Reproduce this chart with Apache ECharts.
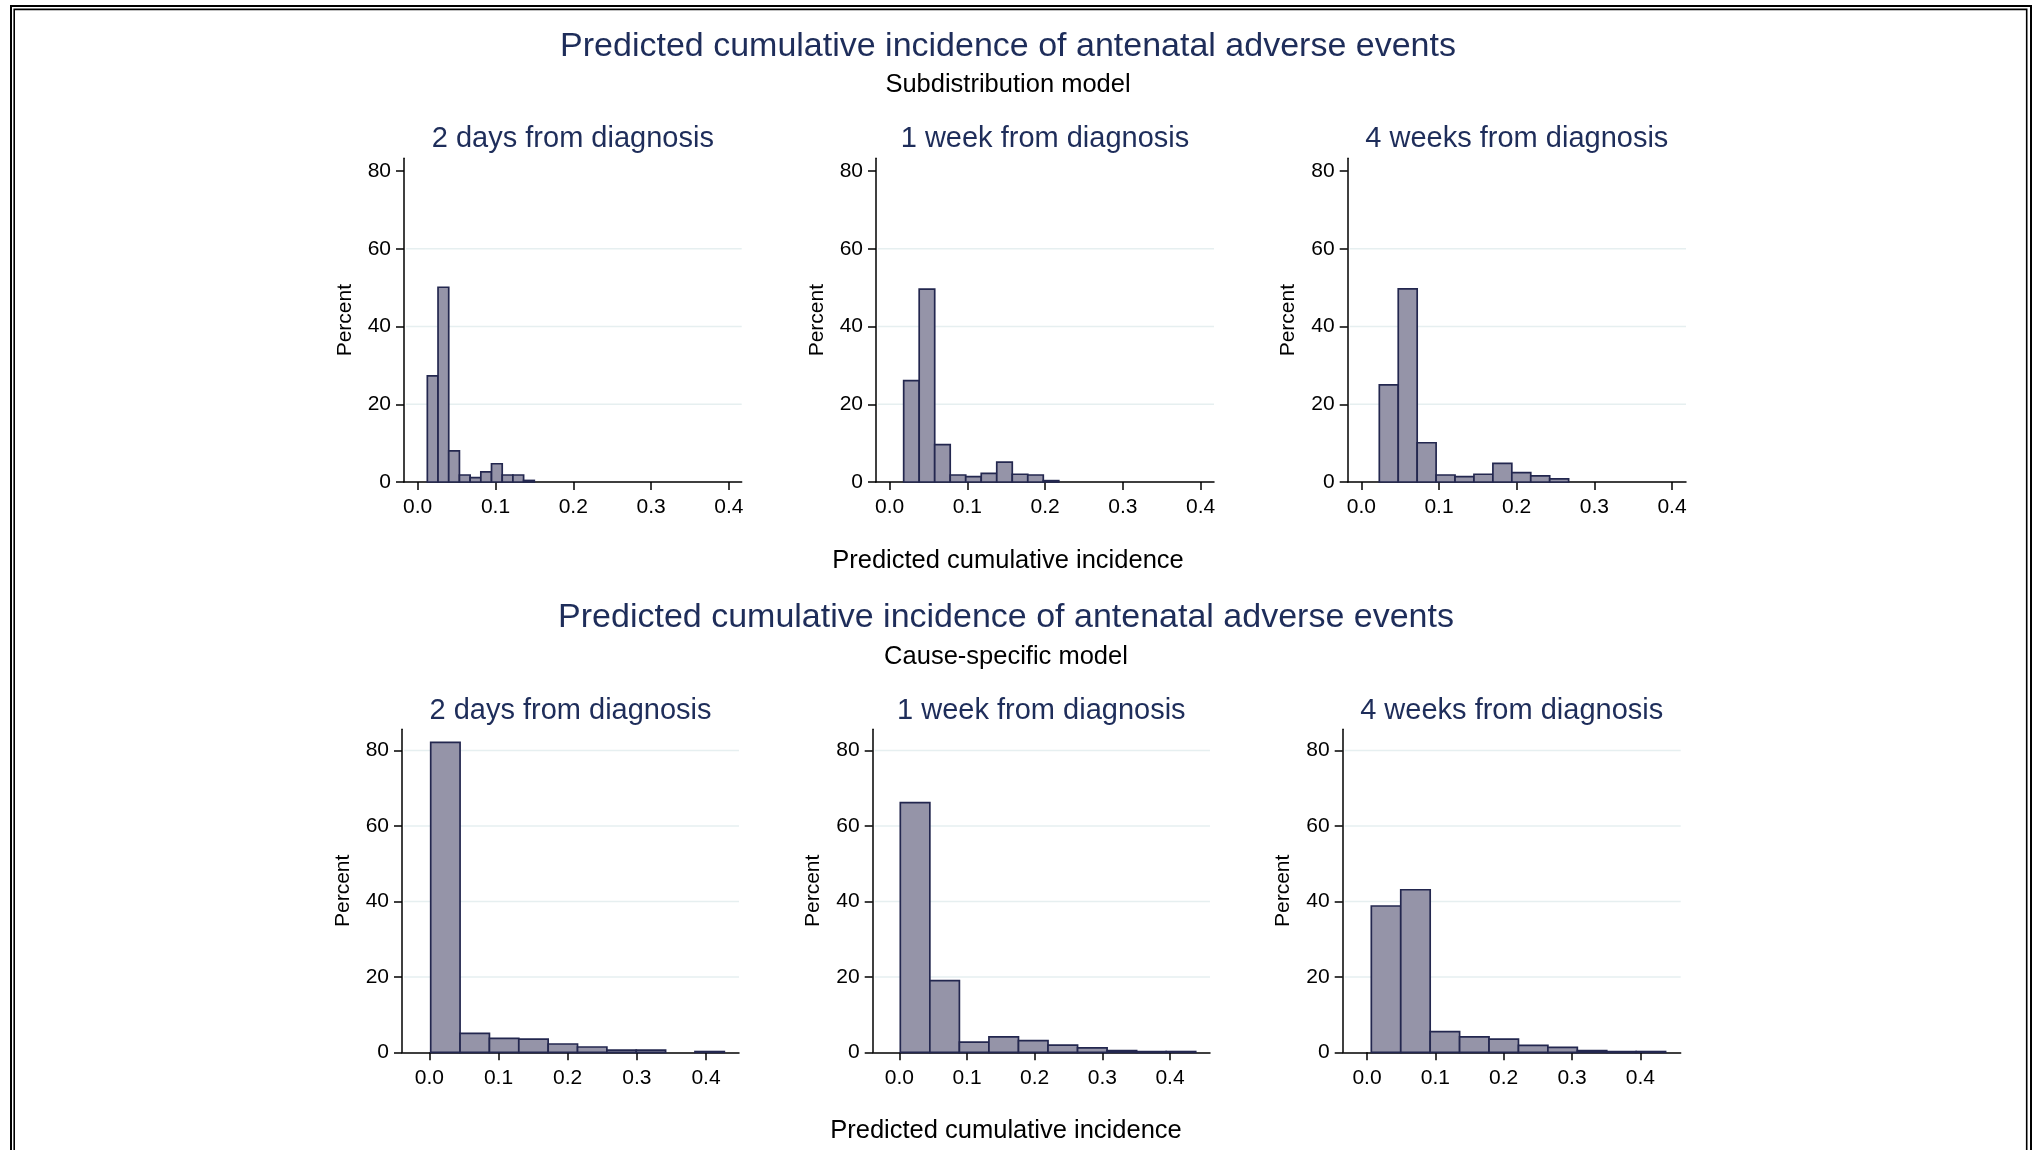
<!DOCTYPE html>
<html>
<head>
<meta charset="utf-8">
<script src="https://cdn.jsdelivr.net/npm/echarts@6/dist/echarts.min.js"></script>
<style>
  html, body { margin: 0; padding: 0; background: #ffffff; }
  #chart { width: 2035px; height: 1150px; }
</style>
</head>
<body>
<div id="chart"></div>
<script>
// ---- Histogram data: start of first bin, bin width, percent per bin ----
// Subdistribution model
const sd2dStart = 0.0124, sd2dWidth = 0.01375;
const sd2dPct = [27.3, 50.1, 8.0, 1.8, 1.1, 2.6, 4.7, 1.8, 1.8, 0.4];
const sd1wStart = 0.018, sd1wWidth = 0.01995;
const sd1wPct = [26.1, 49.6, 9.6, 1.8, 1.4, 2.2, 5.1, 2.0, 1.8, 0.35];
const sd4wStart = 0.0232, sd4wWidth = 0.02437;
const sd4wPct = [25.0, 49.7, 10.1, 1.8, 1.4, 2.0, 4.8, 2.4, 1.6, 0.8];
// Cause-specific model
const cs2dStart = 0.002, cs2dWidth = 0.04245;
const cs2dPct = [82.2, 5.0, 3.7, 3.5, 2.2, 1.4, 0.6, 0.6, 0, 0.2];
const cs1wStart = 0.0015, cs1wWidth = 0.04365;
const cs1wPct = [66.2, 19.0, 2.7, 4.1, 3.1, 1.9, 1.15, 0.45, 0.2, 0.2];
const cs4wStart = 0.0063, cs4wWidth = 0.04307;
const cs4wPct = [38.8, 43.1, 5.5, 4.1, 3.5, 1.85, 1.3, 0.45, 0.2, 0.2];

// ---- Tick labels and text ----
const xTicks = [0, 0.1, 0.2, 0.3, 0.4];
const yTicks = [0, 20, 40, 60, 80];
const mainTitle = 'Predicted cumulative incidence of antenatal adverse events';
const subTitles = ['Subdistribution model', 'Cause-specific model'];
const panelTitles = ['2 days from diagnosis', '1 week from diagnosis', '4 weeks from diagnosis'];
const xTitle = 'Predicted cumulative incidence';
const yTitle = 'Percent';

// ---- Styling ----
const FONT = '"Liberation Sans", Arial, Helvetica, sans-serif';
const NAVY = '#1e2d5a';
const BAR_FILL = '#9594a8';
const BAR_EDGE = '#23274f';
const GRID_LINE = '#e6eff0';

// Panel layout: plot box and axis ranges
const panels = [
  { start: sd2dStart, width: sd2dWidth, pct: sd2dPct, left: 404,   top: 158.3, w: 337.7, h: 323.7, xMin: -0.0176, xMax: 0.4165, yMax: 83.27, grid: [20, 40, 60] },
  { start: sd1wStart, width: sd1wWidth, pct: sd1wPct, left: 876,   top: 158.3, w: 338,   h: 323.7, xMin: -0.0176, xMax: 0.4171, yMax: 83.27, grid: [20, 40, 60] },
  { start: sd4wStart, width: sd4wWidth, pct: sd4wPct, left: 1347.7,top: 158.3, w: 338.3, h: 323.7, xMin: -0.0175, xMax: 0.418,  yMax: 83.27, grid: [20, 40, 60] },
  { start: cs2dStart, width: cs2dWidth, pct: cs2dPct, left: 402,   top: 729.3, w: 337,   h: 323,   xMin: -0.0395, xMax: 0.4477, yMax: 85.65, grid: [20, 40, 60, 80] },
  { start: cs1wStart, width: cs1wWidth, pct: cs1wPct, left: 872.7, top: 729.3, w: 337.3, h: 323,   xMin: -0.0393, xMax: 0.4591, yMax: 85.65, grid: [20, 40, 60, 80] },
  { start: cs4wStart, width: cs4wWidth, pct: cs4wPct, left: 1342.7,top: 729.3, w: 338,   h: 323,   xMin: -0.0356, xMax: 0.4591, yMax: 85.65, grid: [20, 40, 60, 80] }
];

function binData(p) {
  const out = [];
  p.pct.forEach((v, i) => {
    if (v > 0) out.push([p.start + i * p.width, p.start + (i + 1) * p.width, v]);
  });
  return out;
}

function renderBin(params, api) {
  const a = api.coord([api.value(0), api.value(2)]);
  const b = api.coord([api.value(1), 0]);
  return {
    type: 'rect',
    shape: { x: a[0], y: a[1], width: b[0] - a[0], height: b[1] - a[1] },
    style: { fill: BAR_FILL, stroke: BAR_EDGE, lineWidth: 1.7 }
  };
}

function renderGridLine(params, api) {
  const cs = params.coordSys;
  const y = api.coord([0, api.value(1)])[1];
  return {
    type: 'line',
    shape: { x1: cs.x + 2, y1: y, x2: cs.x + cs.width, y2: y },
    style: { stroke: GRID_LINE, lineWidth: 1.5 }
  };
}

const grids = [], xAxes = [], yAxes = [], series = [];
panels.forEach((p, i) => {
  grids.push({ left: p.left, top: p.top, width: p.w, height: p.h, containLabel: false });
  xAxes.push({
    gridIndex: i, type: 'value', min: p.xMin, max: p.xMax,
    axisLine: { show: true, onZero: false, lineStyle: { color: '#000', width: 1.5 } },
    axisTick: { show: true, length: 8, lineStyle: { color: '#000', width: 1.5 }, customValues: xTicks },
    axisLabel: { customValues: xTicks, formatter: v => v.toFixed(1), margin: 15,
                 color: '#000', fontSize: 21, fontFamily: FONT },
    splitLine: { show: false }
  });
  yAxes.push({
    gridIndex: i, type: 'value', min: 0, max: p.yMax, interval: 20,
    axisLine: { show: true, onZero: false, lineStyle: { color: '#000', width: 1.5 } },
    axisTick: { show: true, length: 8, lineStyle: { color: '#000', width: 1.5 }, customValues: yTicks },
    axisLabel: { customValues: yTicks, margin: 13, color: '#000', fontSize: 21, fontFamily: FONT },
    splitLine: { show: false }
  });
  series.push({
    type: 'custom', xAxisIndex: i, yAxisIndex: i, z: 1, silent: true,
    renderItem: renderGridLine,
    data: p.grid.map(v => [0, v])
  });
  series.push({
    type: 'custom', xAxisIndex: i, yAxisIndex: i, z: 3, silent: true,
    renderItem: renderBin,
    encode: { x: [0, 1], y: 2 },
    data: binData(p)
  });
});

// Titles and labels
const graphics = [];
function addText(text, x, y, size, color, rotation) {
  graphics.push({
    type: 'text', x: x, y: y, rotation: rotation || 0, silent: true,
    style: { text: text, font: size + 'px ' + FONT, fill: color, align: 'center', verticalAlign: 'middle' }
  });
}
// Double frame around the figure
graphics.push({ type: 'rect', silent: true, shape: { x: 11, y: 6, width: 2020, height: 1200 },
                style: { fill: 'none', stroke: '#000', lineWidth: 2 } });
graphics.push({ type: 'rect', silent: true, shape: { x: 14.2, y: 9.4, width: 2012.5, height: 1200 },
                style: { fill: 'none', stroke: '#000', lineWidth: 1.6 } });

const rowText = [
  { main: 46.5, sub: 84.5, panel: 138.5, xt: 560.5, cx: 1008 },
  { main: 617.5, sub: 656.5, panel: 710.5, xt: 1130.5, cx: 1006 }
];
rowText.forEach((r, row) => {
  addText(mainTitle, r.cx, r.main, 34, NAVY);
  addText(subTitles[row], r.cx, r.sub, 25.5, '#000');
  addText(xTitle, r.cx, r.xt, 25.5, '#000');
  for (let c = 0; c < 3; c++) {
    const p = panels[row * 3 + c];
    addText(panelTitles[c], p.left + p.w / 2, r.panel, 29, NAVY);
    addText(yTitle, p.left - 59, p.top + p.h / 2, 21, '#000', Math.PI / 2);
  }
});

const chart = echarts.init(document.getElementById('chart'), null, { renderer: 'canvas' });
chart.setOption({
  animation: false,
  backgroundColor: '#ffffff',
  grid: grids,
  xAxis: xAxes,
  yAxis: yAxes,
  series: series,
  graphic: graphics
});
</script>
</body>
</html>
